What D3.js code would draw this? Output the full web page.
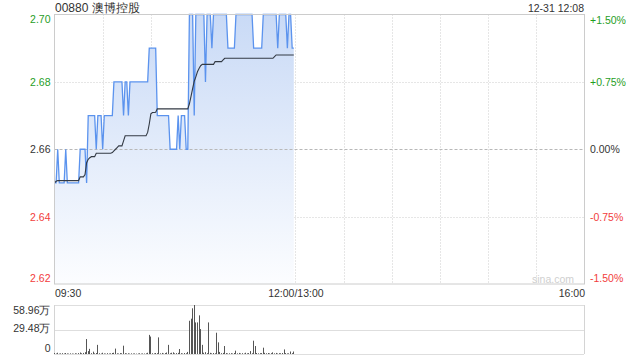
<html>
  <head>
	<meta charset="utf-8">
	<title>00880 澳博控股</title>
	<script src="https://d3js.org/d3.v7.min.js"></script>
	<style>
	  body { margin: 0; background: #fff; }
	  text { font-family: "Liberation Sans", Arial, sans-serif; }
	</style>
  </head>
  <body>

  <svg width="640" height="360"></svg>

	<script type="text/javascript">

    // dados - um ponto por minuto, 09:30 ate 11:59
    var prices = [
      2.65, 2.65, 2.66, 2.65, 2.65, 2.65, 2.65, 2.66, 2.65, 2.65,
      2.65, 2.65, 2.65, 2.65, 2.65, 2.65, 2.66, 2.66, 2.66, 2.66,
      2.65, 2.67, 2.67, 2.67, 2.67, 2.67, 2.66, 2.67, 2.67, 2.67,
      2.66, 2.67, 2.67, 2.67, 2.67, 2.67, 2.67, 2.68, 2.68, 2.68,
      2.68, 2.68, 2.68, 2.67, 2.68, 2.68, 2.67, 2.68, 2.68, 2.68,
      2.68, 2.68, 2.68, 2.68, 2.68, 2.68, 2.68, 2.68, 2.68, 2.69,
      2.69, 2.69, 2.69, 2.69, 2.67, 2.67, 2.67, 2.67, 2.67, 2.67,
      2.67, 2.67, 2.66, 2.66, 2.66, 2.66, 2.66, 2.67, 2.66, 2.67,
      2.67, 2.67, 2.66, 2.66, 2.70, 2.70, 2.70, 2.67, 2.70, 2.70,
      2.70, 2.70, 2.70, 2.70, 2.68, 2.70, 2.70, 2.70, 2.69, 2.70,
      2.70, 2.70, 2.70, 2.70, 2.70, 2.70, 2.70, 2.70, 2.69, 2.69,
      2.69, 2.69, 2.69, 2.70, 2.70, 2.70, 2.70, 2.70, 2.70, 2.70,
      2.70, 2.70, 2.70, 2.70, 2.69, 2.69, 2.69, 2.69, 2.69, 2.69,
      2.70, 2.70, 2.70, 2.70, 2.70, 2.70, 2.70, 2.70, 2.70, 2.69,
      2.70, 2.70, 2.70, 2.70, 2.70, 2.69, 2.70, 2.70, 2.69, 2.69
    ];

    var avgPrices = [
      2.6500, 2.6505, 2.6507, 2.6507, 2.6507, 2.6507, 2.6507, 2.6507, 2.6507, 2.6507,
      2.6507, 2.6507, 2.6507, 2.6507, 2.6507, 2.6507, 2.6518, 2.6518, 2.6518, 2.6525,
      2.6560, 2.6570, 2.6575, 2.6578, 2.6578, 2.6578, 2.6588, 2.6588, 2.6588, 2.6588,
      2.6588, 2.6588, 2.6588, 2.6588, 2.6588, 2.6588, 2.6590, 2.6595, 2.6600, 2.6605,
      2.6610, 2.6610, 2.6610, 2.6625, 2.6640, 2.6640, 2.6640, 2.6640, 2.6640, 2.6640,
      2.6640, 2.6640, 2.6640, 2.6640, 2.6640, 2.6640, 2.6640, 2.6640, 2.6650, 2.6675,
      2.6705, 2.6709, 2.6709, 2.6710, 2.6720, 2.6720, 2.6720, 2.6720, 2.6720, 2.6720,
      2.6720, 2.6720, 2.6720, 2.6720, 2.6720, 2.6720, 2.6720, 2.6720, 2.6720, 2.6720,
      2.6720, 2.6720, 2.6720, 2.6720, 2.6735, 2.6757, 2.6780, 2.6802, 2.6815, 2.6830,
      2.6840, 2.6848, 2.6852, 2.6852, 2.6852, 2.6852, 2.6852, 2.6852, 2.6852, 2.6852,
      2.6860, 2.6860, 2.6860, 2.6860, 2.6860, 2.6865, 2.6870, 2.6870, 2.6870, 2.6870,
      2.6870, 2.6870, 2.6870, 2.6870, 2.6870, 2.6870, 2.6870, 2.6870, 2.6870, 2.6870,
      2.6870, 2.6870, 2.6870, 2.6870, 2.6870, 2.6870, 2.6870, 2.6870, 2.6870, 2.6870,
      2.6870, 2.6870, 2.6870, 2.6870, 2.6870, 2.6870, 2.6870, 2.6875, 2.6880, 2.6880,
      2.6880, 2.6880, 2.6880, 2.6880, 2.6880, 2.6880, 2.6880, 2.6880, 2.6880, 2.6880
    ];

    // volume em 万
    var volumes = [
      1.2, 0.6, 1.5, 0.5, 0.8, 1.0, 0.6, 1.2, 0.7, 0.5,
      0.8, 0.6, 0.4, 0.9, 0.6, 1.1, 1.8, 0.9, 1.3, 2.2,
      18.0, 3.5, 6.2, 1.0, 2.8, 0.8, 1.2, 11.0, 0.9, 0.6,
      1.5, 0.7, 0.5, 1.0, 0.6, 0.8, 1.2, 1.5, 6.5, 0.8,
      0.6, 1.1, 0.9, 10.0, 1.0, 0.7, 0.9, 0.5, 0.8, 0.6,
      0.7, 0.5, 0.6, 0.9, 0.5, 0.7, 0.6, 0.8, 1.5, 23.0,
      21.0, 0.9, 0.7, 1.2, 1.0, 20.0, 0.8, 1.3, 0.6, 1.1,
      1.8, 11.0, 0.9, 1.5, 2.0, 0.8, 1.1, 1.4, 6.0, 1.0,
      0.6, 1.2, 0.9, 2.5, 40.0, 42.5, 55.0, 58.96, 38.0, 38.0,
      46.5, 30.0, 11.0, 1.5, 2.2, 1.0, 38.0, 1.4, 0.8, 1.2,
      0.9, 25.6, 14.0, 2.5, 1.0, 1.3, 9.6, 1.1, 0.7, 0.9,
      1.0, 0.6, 1.2, 4.0, 0.8, 1.3, 0.7, 1.0, 0.6, 1.5,
      0.8, 1.1, 3.5, 0.9, 16.0, 9.6, 1.2, 0.8, 1.0, 1.1,
      7.6, 1.4, 0.9, 1.2, 0.7, 1.0, 2.0, 0.8, 1.3, 0.6,
      1.0, 0.9, 1.2, 5.5, 1.1, 0.7, 0.8, 3.0, 1.0, 3.0
    ];

    var priceTicks = [2.62, 2.64, 2.66, 2.68, 2.70];
    var pctTicks = [-1.5, -0.75, 0, 0.75, 1.5];
    var volTicks = [0, 29.48, 58.96];
    var timeTicks = [0, 150, 330];          // minutos desde 09:30
    var timeLabels = ["09:30", "12:00/13:00", "16:00"];
    var prevClose = 2.66;
    var stockName = "00880 澳博控股";
    var dateLabel = "12-31 12:08";

    var green = "#1f9e1f", red = "#f23c3c", dark = "#333";
    // (window.top e reservado, por isso os nomes com prefixo)
    var pLeft = 54.5, pRight = 584.5, pTop = 14.5, pBottom = 284;
    var vTop = 305, vBottom = 354;

    var svg = d3.select("svg");

    var escalaX = d3.scaleLinear().domain([0, 330]).range([pLeft, pRight]);
    var escalaY = d3.scaleLinear().domain([2.62, 2.70]).range([pBottom, pTop]);
    var escalaPct = d3.scaleLinear().domain([-1.5, 1.5]).range([pBottom, pTop]);
    var escalaV = d3.scaleLinear().domain([0, 58.96]).range([vBottom, vTop]);

    function corPreco(v) {
        if (Math.abs(v - prevClose) < 1e-6) return dark;
        return v > prevClose ? green : red;
    }

    // gradiente da area
    var grad = svg.append("defs").append("linearGradient")
      .attr("id", "fundo").attr("gradientUnits", "userSpaceOnUse")
      .attr("x1", 0).attr("x2", 0).attr("y1", pTop).attr("y2", pBottom);
    grad.append("stop").attr("offset", 0).attr("stop-color", "#c9daf6");
    grad.append("stop").attr("offset", 1).attr("stop-color", "#fcfdff");

    // grade vertical, a cada 30 minutos
    var vGrid = d3.range(1, 11).map(i => i * 30);
    svg.append("g").selectAll("line").data(vGrid).enter().append("line")
      .attr("x1", d => Math.round(escalaX(d)) + 0.5).attr("x2", d => Math.round(escalaX(d)) + 0.5)
      .attr("y1", pTop).attr("y2", pBottom)
      .attr("stroke", "#cccccc").attr("stroke-dasharray", "1,2");

    // grade horizontal
    svg.append("g").selectAll("line").data([2.64, 2.68]).enter().append("line")
      .attr("x1", pLeft).attr("x2", pRight)
      .attr("y1", d => Math.round(escalaY(d)) + 0.5).attr("y2", d => Math.round(escalaY(d)) + 0.5)
      .attr("stroke", "#cccccc").attr("stroke-dasharray", "1,2");

    // area e linha de preco
    var area = d3.area().x((d, i) => escalaX(i)).y0(pBottom).y1(d => escalaY(d));
    svg.append("path").datum(prices).attr("d", area).attr("fill", "url(#fundo)");

    svg.append("line")
      .attr("x1", pLeft).attr("x2", pRight)
      .attr("y1", Math.round(escalaY(prevClose)) + 0.5).attr("y2", Math.round(escalaY(prevClose)) + 0.5)
      .attr("stroke", "#b8b8b8").attr("stroke-dasharray", "3,2");

    var linha = d3.line().x((d, i) => escalaX(i)).y(d => escalaY(d));
    svg.append("path").datum(prices).attr("d", linha)
      .attr("fill", "none").attr("stroke", "#5b93ee").attr("stroke-width", 1.3);

    svg.append("path").datum(avgPrices).attr("d", linha)
      .attr("fill", "none").attr("stroke", "#333a44").attr("stroke-width", 1.1);

    // borda
    svg.append("rect").attr("x", pLeft).attr("y", pTop)
      .attr("width", pRight - pLeft).attr("height", pBottom - pTop)
      .attr("fill", "none").attr("stroke", "#cccccc");

    // eixo esquerdo
    var eixoY = d3.axisLeft(escalaY).tickValues(priceTicks).tickSize(0).tickPadding(4)
      .tickFormat(d3.format(".2f"));
    var grupoY = svg.append("g").attr("transform", "translate(" + pLeft + ",0)").call(eixoY);
    grupoY.select(".domain").remove();
    grupoY.selectAll("text")
      .attr("font-family", null).style("font-size", "10.5px")
      .attr("fill", d => corPreco(d))
      .attr("y", d => d == 2.70 ? 5 : (d == 2.62 ? -6 : 0));

    // eixo direito
    var eixoPct = d3.axisRight(escalaPct).tickValues(pctTicks).tickSize(0).tickPadding(5.5)
      .tickFormat(d => (d > 0 ? "+" : "") + d.toFixed(2) + "%");
    var grupoPct = svg.append("g").attr("transform", "translate(" + pRight + ",0)").call(eixoPct);
    grupoPct.select(".domain").remove();
    grupoPct.selectAll("text")
      .attr("font-family", null).style("font-size", "10.5px")
      .attr("fill", d => d == 0 ? dark : (d > 0 ? green : red))
      .attr("y", d => d == 1.5 ? 6 : (d == -1.5 ? -6 : 0));

    // eixo de tempo
    var eixoX = d3.axisBottom(escalaX).tickValues(timeTicks).tickSize(0).tickPadding(5.5)
      .tickFormat((d, i) => timeLabels[i]);
    var grupoX = svg.append("g").attr("transform", "translate(0," + pBottom + ")").call(eixoX);
    grupoX.select(".domain").remove();
    grupoX.selectAll("text")
      .attr("font-family", null).style("font-size", "10.5px").attr("fill", dark)
      .attr("text-anchor", (d, i) => i == 0 ? "start" : (i == 2 ? "end" : "middle"));

    // titulo e data
    svg.append("text").attr("x", 55).attr("y", 12).attr("fill", dark)
      .style("font-size", "12px").text(stockName);
    svg.append("text").attr("x", 584).attr("y", 12).attr("fill", dark)
      .attr("text-anchor", "end").style("font-size", "10.5px").text(dateLabel);

    svg.append("text").attr("x", 574).attr("y", 283).attr("fill", "#cfcfcf")
      .attr("text-anchor", "end").style("font-size", "10.5px").text("sina.com");

    // painel de volume
    svg.append("g").selectAll("line").data(volTicks).enter().append("line")
      .attr("x1", pLeft).attr("x2", pRight)
      .attr("y1", d => Math.round(escalaV(d)) + 0.5).attr("y2", d => Math.round(escalaV(d)) + 0.5)
      .attr("stroke", "#bdbdbd").attr("stroke-dasharray", "1,1");
    svg.append("g").selectAll("line").data([pLeft, pRight]).enter().append("line")
      .attr("x1", d => d).attr("x2", d => d)
      .attr("y1", vTop).attr("y2", vBottom)
      .attr("stroke", "#d4d4d4");

    svg.append("g").selectAll("rect").data(volumes).enter().append("rect")
      .attr("x", (d, i) => Math.floor(escalaX(i)))
      .attr("y", d => escalaV(d))
      .attr("width", 1)
      .attr("height", d => vBottom - escalaV(d))
      .attr("fill", "#555");

    var eixoV = d3.axisLeft(escalaV).tickValues(volTicks).tickSize(0).tickPadding(4)
      .tickFormat(d => d == 0 ? "0" : d.toFixed(2) + "万");
    var grupoV = svg.append("g").attr("transform", "translate(" + pLeft + ",0)").call(eixoV);
    grupoV.select(".domain").remove();
    grupoV.selectAll("text")
      .attr("font-family", null).style("font-size", "10.5px").attr("fill", dark)
      .attr("y", d => d == 58.96 ? 5.5 : (d == 0 ? -5.5 : -1));

	</script>
  </body>

</html>
